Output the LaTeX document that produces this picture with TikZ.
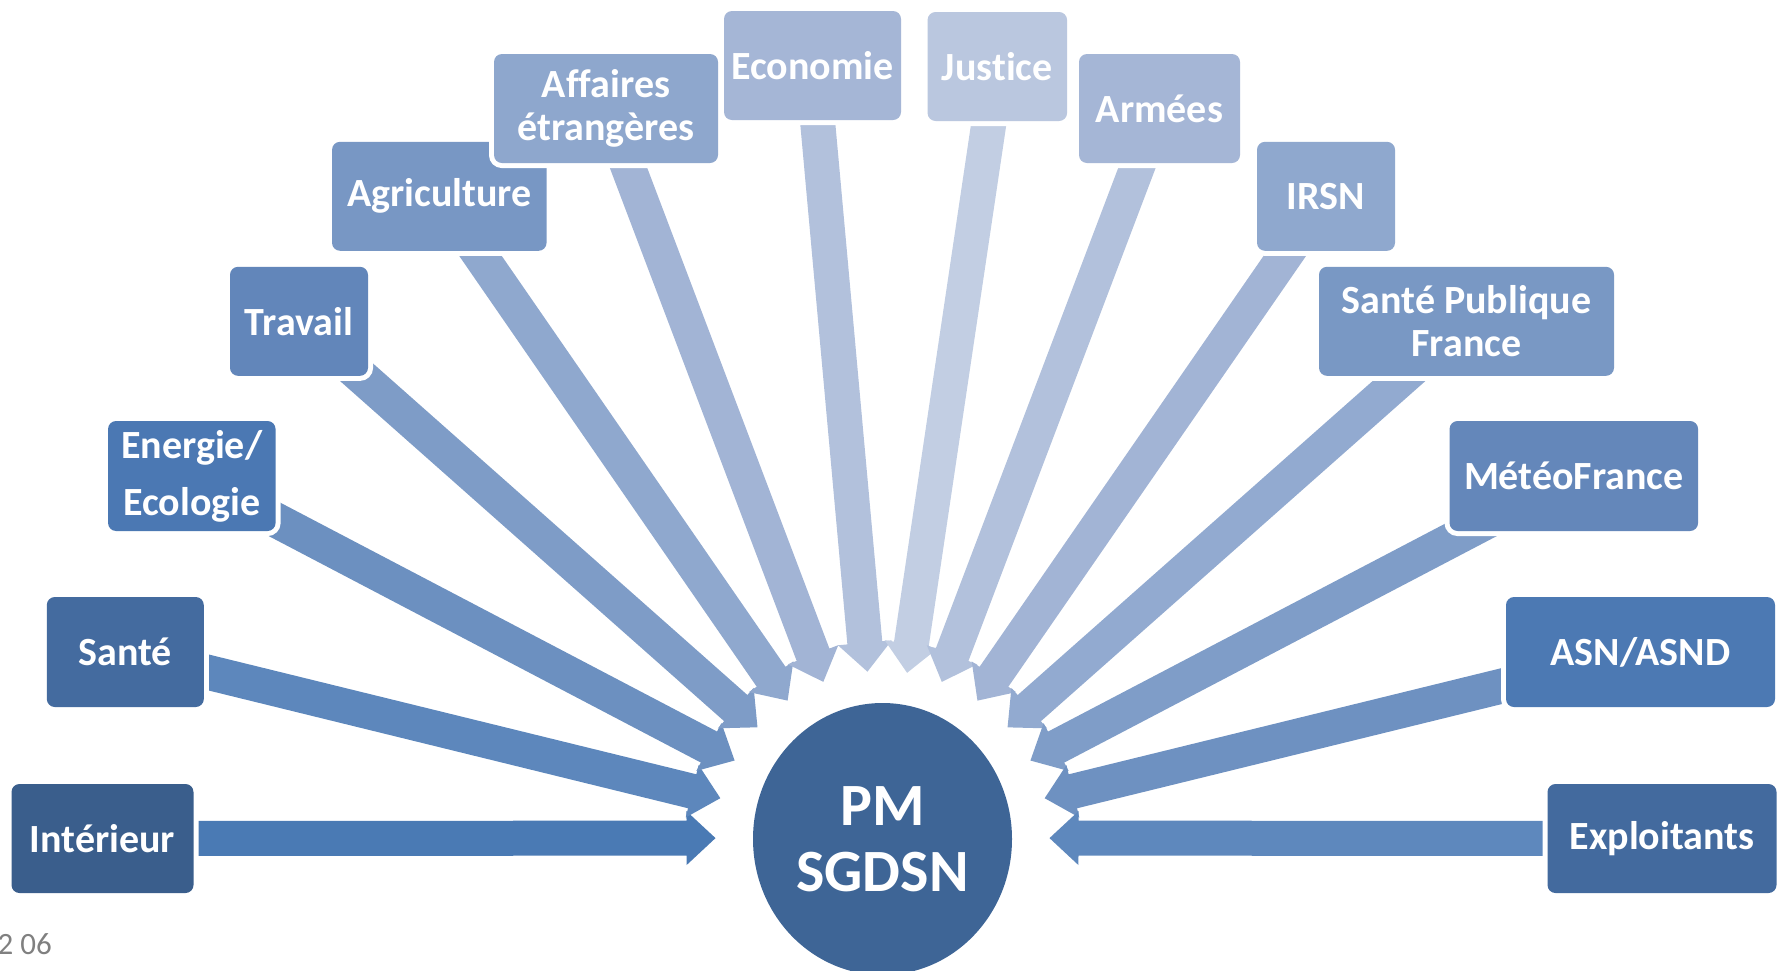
\documentclass[tikz,border=0pt]{standalone}
\usepackage{fontspec}
\setmainfont{Carlito}[Ligatures=NoCommon]
\usetikzlibrary{calc,shapes.geometric}
\pgfdeclarelayer{bg}
\pgfsetlayers{bg,main}
% box colours
\definecolor{bInt}{HTML}{3A5E8C}
\definecolor{bSan}{HTML}{446B9F}
\definecolor{bEne}{HTML}{4B78B3}
\definecolor{bTra}{HTML}{6286BA}
\definecolor{bAgr}{HTML}{7897C4}
\definecolor{bAff}{HTML}{8EA7CD}
\definecolor{bEco}{HTML}{A5B6D6}
\definecolor{bJus}{HTML}{BAC7DF}
\definecolor{bArm}{HTML}{A5B6D6}
\definecolor{bIrs}{HTML}{8FA8CE}
\definecolor{bSpf}{HTML}{7998C4}
\definecolor{bMet}{HTML}{6487BA}
\definecolor{bAsn}{HTML}{4C79B3}
\definecolor{bExp}{HTML}{436A9E}
\definecolor{circ}{HTML}{3E6596}
% arrow colours
\definecolor{aInt}{HTML}{4A7AB4}
\definecolor{aSan}{HTML}{5D87BC}
\definecolor{aEne}{HTML}{6C90C0}
\definecolor{aTra}{HTML}{7E9CC7}
\definecolor{aAgr}{HTML}{8FA8CE}
\definecolor{aAff}{HTML}{A2B4D5}
\definecolor{aEco}{HTML}{B2C1DC}
\definecolor{aJus}{HTML}{C2CEE3}
\definecolor{aArm}{HTML}{B2C1DC}
\definecolor{aIrs}{HTML}{A2B4D5}
\definecolor{aSpf}{HTML}{92AAD0}
\definecolor{aMet}{HTML}{7F9DC8}
\definecolor{aAsn}{HTML}{6E91C1}
\definecolor{aExp}{HTML}{5E88BD}
\definecolor{footgray}{HTML}{808080}

\newcommand\radarrow[2]{%
  \path ($(C)!167pt!(#1.center)$) coordinate (tp)
        ($(tp)!29pt!(#1.center)$) coordinate (hb);
  \fill[#2] ($(#1.center)!17.5pt!90:(tp)$)
     -- ($(hb)!17.5pt!-90:(#1.center)$)
     -- ($(hb)!27pt!-90:(#1.center)$)
     -- (tp)
     -- ($(hb)!27pt!90:(#1.center)$)
     -- ($(hb)!17.5pt!90:(#1.center)$)
     -- ($(#1.center)!17.5pt!-90:(tp)$) -- cycle;}

\tikzset{
  box/.style={fill=#1, rounded corners=8pt, inner sep=0pt, align=center,
    text=white, font=\fontsize{40}{43.5}\selectfont\bfseries,
    preaction={draw=white, line width=10pt}},
}

\begin{document}
\begin{tikzpicture}[x=1pt,y=-1pt]
\useasboundingbox (0,0) rectangle (1777,970);
\coordinate (C) at (882.5,838);

\node[box=bInt, minimum width=182pt, minimum height=109pt] (int) at (102.5,838.5) {Intérieur};
\node[box=bSan, minimum width=157pt, minimum height=110pt] (san) at (125.3,652) {Santé};
\node[box=bEne, minimum width=167.5pt, minimum height=110pt, font=\fontsize{40}{56.7}\selectfont\bfseries] (ene) at (191.8,476) {Energie/\\Ecologie};
\node[box=bTra, minimum width=138pt, minimum height=109pt] (tra) at (299,321.3) {Travail};
\node[box=bAgr, minimum width=214.5pt, minimum height=109pt] (agr) at (439.3,196.3) {Agriculture};
\node[box=bAff, minimum width=224pt, minimum height=109pt] (aff) at (606,108.5) {Affaires\\étrangères};
\node[box=bEco, minimum width=177pt, minimum height=109pt] (eco) at (812.5,65.5) {Economie};
\node[box=bJus, minimum width=139.5pt, minimum height=109pt] (jus) at (997.3,66.5) {Justice};
\node[box=bArm, minimum width=161pt, minimum height=109pt] (arm) at (1159.5,108.5) {Armées};
\node[box=bIrs, minimum width=138pt, minimum height=109pt] (irs) at (1326,196.3) {IRSN};
\node[box=bSpf, minimum width=295pt, minimum height=109pt] (spf) at (1466.5,321.3) {Santé Publique\\France};
\node[box=bMet, minimum width=248.5pt, minimum height=110pt] (met) at (1573.8,476) {MétéoFrance};
\node[box=bAsn, minimum width=269pt, minimum height=110pt] (asn) at (1640.5,652) {ASN/ASND};
\node[box=bExp, minimum width=229pt, minimum height=109pt] (exp) at (1662,838.5) {Exploitants};

\node[ellipse, fill=circ, minimum width=259pt, minimum height=272pt, inner sep=0pt,
      align=center, text=white, font=\fontsize{60}{66}\selectfont\bfseries] (pm) at (882.5,839) {PM\\SGDSN};

\node[anchor=base east, text=footgray, inner sep=0pt, font=\fontsize{31}{31}\selectfont] (foot) at (52,954) {2 06};

\begin{pgfonlayer}{bg}
\radarrow{int}{aInt}
\radarrow{san}{aSan}
\radarrow{ene}{aEne}
\radarrow{tra}{aTra}
\radarrow{agr}{aAgr}
\radarrow{aff}{aAff}
\radarrow{eco}{aEco}
\radarrow{jus}{aJus}
\radarrow{arm}{aArm}
\radarrow{irs}{aIrs}
\radarrow{spf}{aSpf}
\radarrow{met}{aMet}
\radarrow{asn}{aAsn}
\radarrow{exp}{aExp}
\end{pgfonlayer}
\end{tikzpicture}
\end{document}
